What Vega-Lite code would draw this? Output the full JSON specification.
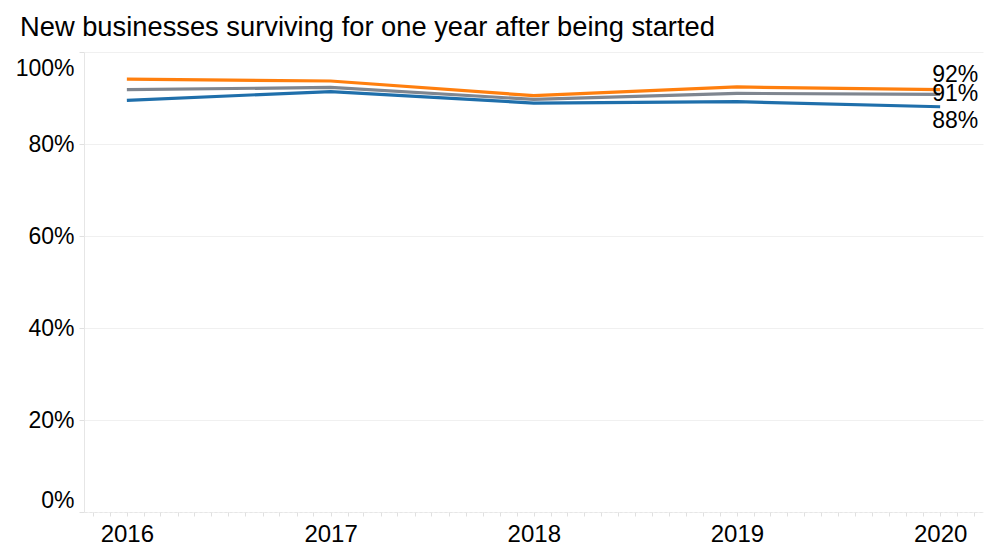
{
  "$schema": "https://vega.github.io/schema/vega-lite/v6.json",
  "width": 899,
  "height": 460,
  "autosize": "none",
  "padding": {"left": 84, "top": 52, "right": 16, "bottom": 35},
  "background": "white",
  "title": {
    "text": "New businesses surviving for one year after being started",
    "anchor": "start",
    "frame": "group",
    "dx": -64,
    "dy": 29,
    "offset": 17,
    "baseline": "alphabetic",
    "font": "Liberation Sans",
    "fontSize": 27.3,
    "fontWeight": "normal",
    "color": "#000000"
  },
  "config": {
    "view": {"stroke": null},
    "font": "Liberation Sans",
    "axis": {
      "labelFont": "Liberation Sans",
      "labelFontSize": 23,
      "labelColor": "#000000",
      "gridColor": "#f0f0f0",
      "domainColor": "#e6e6e6",
      "tickColor": "#e0e0e0",
      "title": null
    }
  },
  "data": {
    "values": [
      {"year": "2016-01-01", "series": "Orange series", "rate": 0.941},
      {"year": "2017-01-01", "series": "Orange series", "rate": 0.937},
      {"year": "2018-01-01", "series": "Orange series", "rate": 0.905},
      {"year": "2019-01-01", "series": "Orange series", "rate": 0.924},
      {"year": "2020-01-01", "series": "Orange series", "rate": 0.918},
      {"year": "2016-01-01", "series": "Grey series", "rate": 0.918},
      {"year": "2017-01-01", "series": "Grey series", "rate": 0.923},
      {"year": "2018-01-01", "series": "Grey series", "rate": 0.897},
      {"year": "2019-01-01", "series": "Grey series", "rate": 0.910},
      {"year": "2020-01-01", "series": "Grey series", "rate": 0.908},
      {"year": "2016-01-01", "series": "Blue series", "rate": 0.895},
      {"year": "2017-01-01", "series": "Blue series", "rate": 0.914},
      {"year": "2018-01-01", "series": "Blue series", "rate": 0.889},
      {"year": "2019-01-01", "series": "Blue series", "rate": 0.892},
      {"year": "2020-01-01", "series": "Blue series", "rate": 0.881}
    ]
  },
  "encoding": {
    "x": {
      "field": "year",
      "type": "temporal",
      "scale": {"domain": ["2015-10-16", "2020-03-18"]},
      "axis": {
        "tickCount": {"interval": "month", "step": 1},
        "labelExpr": "month(datum.value) == 0 ? timeFormat(datum.value, '%Y') : ''",
        "labelOverlap": false,
        "labelFlush": false,
        "labelBound": false,
        "labelFontSize": 24,
        "grid": false,
        "tickSize": 4,
        "labelPadding": 6,
        "domainDash": [3, 2]
      }
    },
    "y": {
      "field": "rate",
      "type": "quantitative",
      "scale": {"domain": [0, 1], "nice": false, "zero": true},
      "axis": {
        "format": ".0%",
        "values": [0, 0.2, 0.4, 0.6, 0.8, 1],
        "labelFlush": true,
        "labelOffset": {"condition": {"test": "datum.value == 1", "value": 5}, "value": 0},
        "tickSize": 5,
        "labelPadding": 5
      }
    }
  },
  "layer": [
    {
      "mark": {"type": "line", "strokeWidth": 3.2},
      "encoding": {
        "color": {
          "field": "series",
          "type": "nominal",
          "scale": {
            "domain": ["Orange series", "Grey series", "Blue series"],
            "range": ["#ff7f0e", "#7f8690", "#1f6fab"]
          },
          "legend": null
        }
      }
    },
    {
      "transform": [{"filter": "datum.series == 'Orange series' && year(datum.year) == 2020"}],
      "mark": {"type": "text", "align": "left", "baseline": "middle", "dx": -8, "dy": -15, "fontSize": 23, "font": "Liberation Sans", "color": "#000000"},
      "encoding": {"text": {"field": "rate", "type": "quantitative", "format": ".0%"}}
    },
    {
      "transform": [{"filter": "datum.series == 'Grey series' && year(datum.year) == 2020"}],
      "mark": {"type": "text", "align": "left", "baseline": "middle", "dx": -8, "dy": 0, "fontSize": 23, "font": "Liberation Sans", "color": "#000000"},
      "encoding": {"text": {"field": "rate", "type": "quantitative", "format": ".0%"}}
    },
    {
      "transform": [{"filter": "datum.series == 'Blue series' && year(datum.year) == 2020"}],
      "mark": {"type": "text", "align": "left", "baseline": "middle", "dx": -8, "dy": 14, "fontSize": 23, "font": "Liberation Sans", "color": "#000000"},
      "encoding": {"text": {"field": "rate", "type": "quantitative", "format": ".0%"}}
    }
  ]
}
